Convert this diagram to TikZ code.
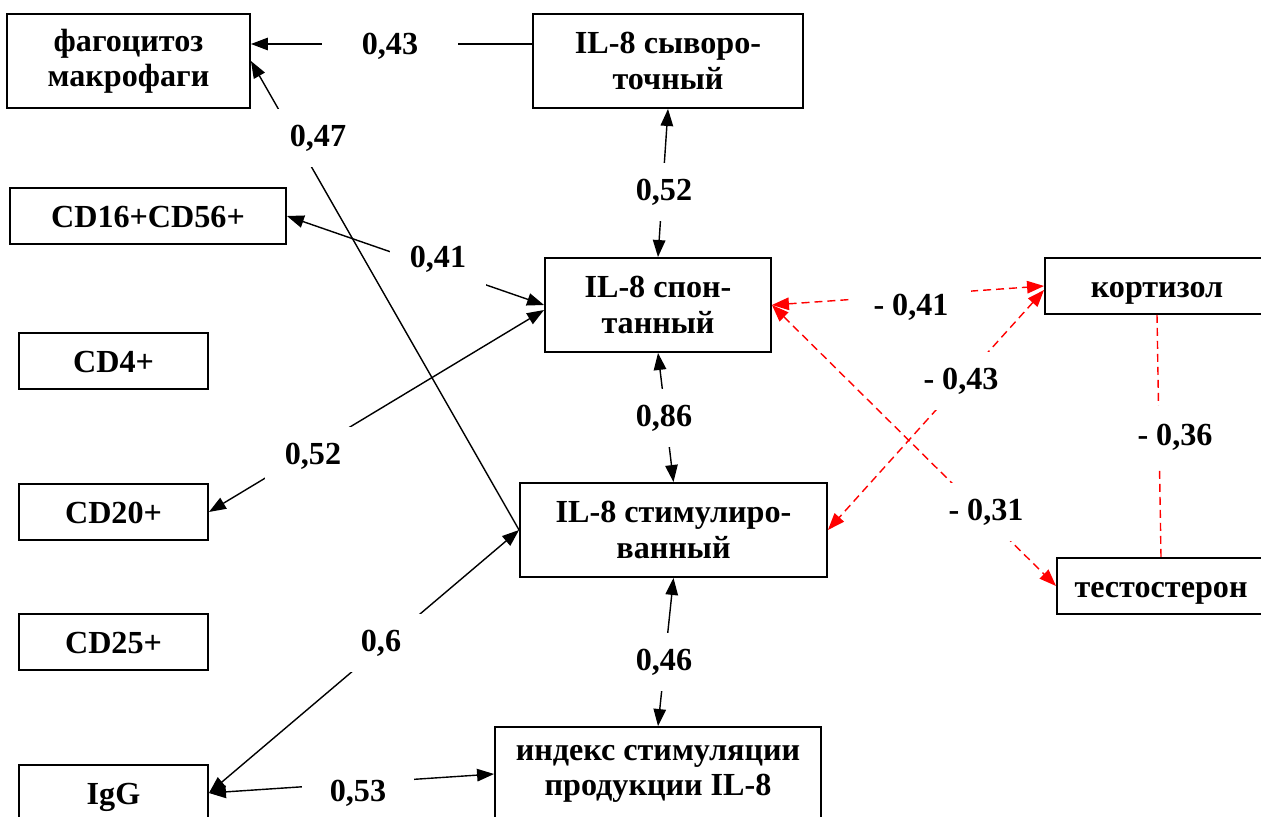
\documentclass[tikz,border=0pt]{standalone}
\usepackage{fontspec}
\setmainfont{Liberation Serif}
\usetikzlibrary{arrows.meta}

\tikzset{
	box/.style={draw, line width=1.1pt, inner sep=0pt, minimum height=1.12cm, text height=13pt, text depth=0pt},
	tallbox/.style={draw, line width=1.1pt, inner sep=0pt, align=center, minimum height=1.88cm},
	lbl/.style={fill=white, inner sep=0pt, minimum width=1.92cm, minimum height=1.16cm},
	link/.style={line width=0.8pt, -{Triangle[length=0.34cm,width=0.25cm]}},
	bilink/.style={line width=0.8pt, {Triangle[length=0.34cm,width=0.25cm]}-{Triangle[length=0.34cm,width=0.25cm]}},
	redlink/.style={bilink, red, dash pattern=on 0.16cm off 0.1cm},
	redline/.style={line width=0.8pt, red, dash pattern=on 0.16cm off 0.1cm}
}

\begin{document}
\begin{tikzpicture}[x=0.02cm, y=-0.02cm, font=\fontsize{18.3}{20}\selectfont\bfseries]
	\useasboundingbox (0,0) rectangle (1261,817);

	% boxes
	\node[tallbox, minimum width=4.86cm] (phago) at (128.5,61) {фагоцитоз\\макрофаги};
	\node[tallbox, minimum width=5.4cm] (serum) at (668,61) {IL-8 сыворо-\\точный};
	\node[box, minimum width=5.52cm] (cd16) at (148,216) {CD16+CD56+};
	\node[tallbox, minimum width=4.52cm] (spont) at (658,305) {IL-8 спон-\\танный};
	\node[box, minimum width=4.48cm] (cort) at (1157,286) {кортизол};
	\node[box, minimum width=3.78cm] (cd4) at (113.5,361) {CD4+};
	\node[box, minimum width=3.78cm] (cd20) at (113.5,512) {CD20+};
	\node[tallbox, minimum width=6.14cm] (stim) at (673.5,530) {IL-8 стимулиро-\\ванный};
	\node[box, minimum width=4.16cm] (testo) at (1161,586) {тестостерон};
	\node[box, minimum width=3.78cm] (cd25) at (113.5,642) {CD25+};
	\node[box, minimum width=3.78cm] (igg) at (113.5,793) {IgG};
	\node[tallbox, minimum width=6.52cm] (index) at (658,774) {индекс стимуляции\\продукции IL-8};

	% links
	\draw[link] ([yshift=0.34cm]serum.west) -- ([yshift=0.34cm]phago.east);
	\draw[link] (stim.west) -- (phago.east);
	\draw[bilink] (cd16.east) -- (spont.west);
	\draw[bilink] (cd20.east) -- ([yshift=-0.1cm]spont.west);
	\draw[bilink] (igg.east) -- (stim.west);
	\draw[bilink] (igg.east) -- (index.west);
	\draw[bilink] (serum.south) -- (spont.north);
	\draw[bilink] (spont.south) -- (stim.north);
	\draw[bilink] (stim.south) -- (index.north);
	\draw[redlink] (spont.east) -- (cort.west);
	\draw[redlink] ([yshift=-0.08cm]cort.west) -- (stim.east);
	\draw[redlink] (spont.east) -- (testo.west);
	\draw[redline] (cort.south) -- (testo.north);

	% coefficients
	\node[lbl, minimum width=2.72cm] (r043) at (390,46) {0,43};
	\node[lbl] (r047) at (318,138) {0,47};
	\node[lbl] (r041) at (438,259) {0,41};
	\node[lbl] (r052a) at (313,456) {0,52};
	\node[lbl] (r06) at (381,643) {0,6};
	\node[lbl, minimum width=2.24cm] (r053) at (358,793) {0,53};
	\node[lbl] (r052b) at (664,192) {0,52};
	\node[lbl] (r086) at (664,418) {0,86};
	\node[lbl] (r046) at (664,662) {0,46};
	\node[lbl, minimum width=2.4cm] (r041r) at (911,307) {- 0,41};
	\node[lbl] (r043r) at (961,381) {- 0,43};
	\node[lbl] (r031r) at (986,512) {- 0,31};
	\node[lbl, minimum height=1.26cm] (r036r) at (1175,437) {- 0,36};
\end{tikzpicture}
\end{document}
